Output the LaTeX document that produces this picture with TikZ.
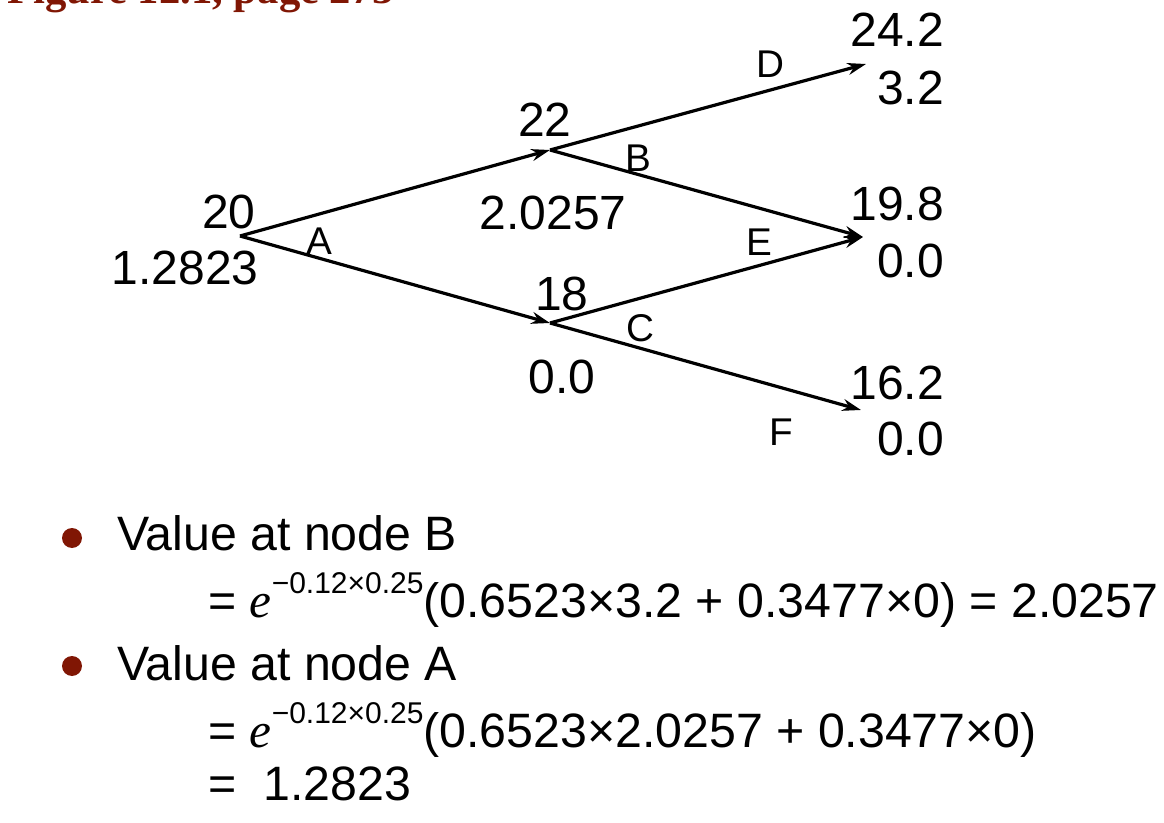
\documentclass[tikz,border=0pt]{standalone}
\usepackage{fontspec}
\setmainfont{Liberation Sans}
\newfontfamily\serifface{Liberation Serif}
\usetikzlibrary{arrows.meta}
\definecolor{titlered}{RGB}{128,22,4}

\newcommand\discterm{{\serifface\itshape\fontsize{37}{40}\selectfont e}\raisebox{18pt}{\fontsize{22.5}{26}\selectfont −0.12×0.25}}

\begin{document}
\begin{tikzpicture}[x=0.75pt, y=-0.75pt,
    branch/.style={line width=2.4pt, -{Stealth[length=14pt, width=9pt]}},
    price/.style={inner sep=0pt, font=\fontsize{36}{42}\selectfont},
    edgelbl/.style={inner sep=0pt, font=\fontsize{29}{34}\selectfont},
    textline/.style={anchor=base west, inner sep=0pt, font=\fontsize{36.2}{42}\selectfont},
    dot/.style={circle, fill=titlered, inner sep=0pt, minimum size=15pt}]

    \useasboundingbox (0,0) rectangle (1164,823);

    % Title, cut off at the top
    \node[anchor=base west, inner sep=0pt, text=titlered,
        font=\serifface\bfseries\fontsize{32}{38}\selectfont] (title) at (7,4) {Figure 12.1, page 273};

    % Tree junctions
    \coordinate (nA) at (240,236);
    \coordinate (nB) at (550,150);
    \coordinate (nC) at (550,323);
    \coordinate (nD) at (866,64);
    \coordinate (nE) at (863,237);
    \coordinate (nF) at (861,410);

    \draw[branch] (nA) -- (nB);
    \draw[branch] (nA) -- (nC);
    \draw[branch] (nB) -- (nD);
    \draw[branch] (nB) -- (nE);
    \draw[branch] (nC) -- (nE);
    \draw[branch] (nC) -- (nF);

    % Stock prices and option values
    \node[price] (sA) at (229,212) {20};
    \node[price] (vA) at (185,268) {1.2823};
    \node[price] (sB) at (545,120) {22};
    \node[price] (vB) at (553,213) {2.0257};
    \node[price] (sC) at (562,294) {18};
    \node[price] (vC) at (562,377) {0.0};
    \node[price, anchor=east] (sD) at (944,30) {24.2};
    \node[price, anchor=east] (vD) at (944,88) {3.2};
    \node[price, anchor=east] (sE) at (944,204) {19.8};
    \node[price, anchor=east] (vE) at (944,261) {0.0};
    \node[price, anchor=east] (sF) at (944,383) {16.2};
    \node[price, anchor=east] (vF) at (944,439) {0.0};

    % Node letters
    \node[edgelbl] (lA) at (319,241) {A};
    \node[edgelbl] (lB) at (638,158) {B};
    \node[edgelbl] (lC) at (640,328) {C};
    \node[edgelbl] (lD) at (770,64) {D};
    \node[edgelbl] (lE) at (759,242) {E};
    \node[edgelbl] (lF) at (781,432) {F};

    % Working below the tree
    \node[dot] (bul1) at (72,538) {};
    \node[textline] (txt1) at (117,550) {Value at node B};
    \node[textline] (txt2) at (208,617) {= \discterm(0.6523×3.2 + 0.3477×0) = 2.0257};
    \node[dot] (bul2) at (72,666) {};
    \node[textline] (txt3) at (117,680) {Value at node A};
    \node[textline] (txt4) at (208,747) {= \discterm(0.6523×2.0257 + 0.3477×0)};
    \node[textline] (txt5) at (208,800) {=\ \ 1.2823};
\end{tikzpicture}
\end{document}
